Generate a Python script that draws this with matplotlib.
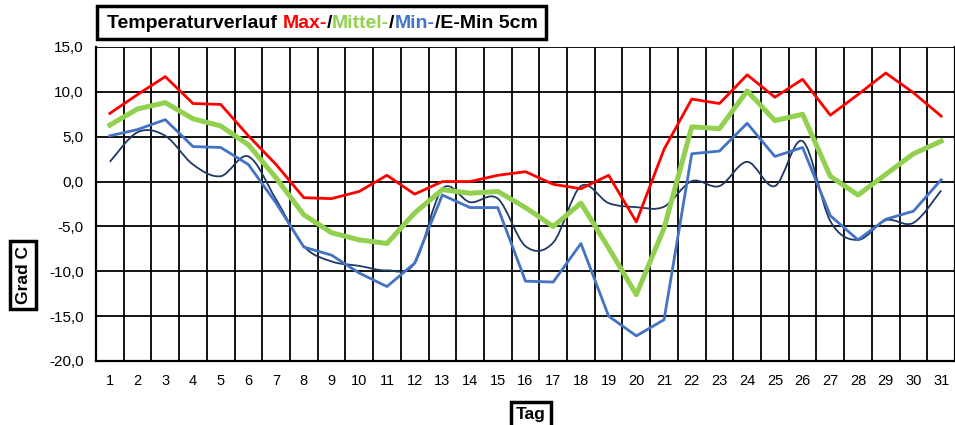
import matplotlib
matplotlib.use("Agg")
import matplotlib.pyplot as plt
from matplotlib.path import Path
from matplotlib.patches import PathPatch, Rectangle
from matplotlib.ticker import FixedLocator, FuncFormatter
import numpy as np

plt.rcParams['font.family'] = ['Liberation Sans', 'DejaVu Sans']

# Tage des Monats und Temperaturen (Grad C)
tage = list(range(1, 32))
t_max = [7.6, 9.7, 11.7, 8.7, 8.6, 5.1, 1.9, -1.8, -1.9, -1.1, 0.7, -1.4, 0.0, 0.0, 0.7, 1.1,
         -0.3, -0.8, 0.7, -4.5, 3.6, 9.2, 8.7, 11.9, 9.4, 11.4, 7.4, 9.7, 12.1, 9.9, 7.3]
t_mittel = [6.3, 8.1, 8.8, 7.0, 6.2, 4.1, 0.4, -3.7, -5.7, -6.5, -6.9, -3.5, -0.9, -1.3, -1.1, -2.9,
            -5.0, -2.4, -7.4, -12.6, -5.2, 6.1, 5.9, 10.1, 6.8, 7.5, 0.6, -1.5, 0.8, 3.1, 4.5]
t_min = [5.1, 5.8, 6.9, 3.9, 3.8, 1.9, -2.4, -7.3, -8.2, -10.2, -11.7, -9.1, -1.5, -2.9, -2.9, -11.1,
         -11.2, -6.9, -15.0, -17.2, -15.4, 3.1, 3.4, 6.5, 2.8, 3.8, -3.8, -6.5, -4.2, -3.3, 0.2]
t_emin = [2.2, 5.5, 5.1, 1.9, 0.6, 2.8, -2.0, -7.2, -8.9, -9.4, -9.9, -9.1, -0.8, -2.3, -1.9, -7.2,
          -6.8, -0.5, -2.4, -2.85, -2.8, 0.05, -0.5, 2.2, -0.5, 4.5, -4.4, -6.5, -4.3, -4.6, -1.0]
y_ticks = [-20, -15, -10, -5, 0, 5, 10, 15]

fig = plt.figure(figsize=(9.55, 4.25), dpi=100)
ax = fig.add_axes([96 / 955, 1 - 361 / 425, 1 - 96 / 955, (361 - 47) / 425])

ax.set_xlim(0.5, 31.5)
ax.set_ylim(-20, 15)

# gitter
ax.xaxis.set_major_locator(FixedLocator(tage))
ax.xaxis.set_minor_locator(FixedLocator(np.arange(1.5, 31, 1)))
ax.yaxis.set_major_locator(FixedLocator(y_ticks))
ax.grid(which='minor', axis='x', color='black', linewidth=1.3)
ax.grid(which='major', axis='y', color='black', linewidth=1.3)
ax.set_axisbelow(True)
for s in ax.spines.values():
    s.set_color('black')
    s.set_linewidth(1.6)
ax.spines['top'].set_visible(False)
ax.tick_params(which='both', length=0)
ax.tick_params(axis='x', pad=9.5, labelsize=10.5)
ax.tick_params(axis='y', pad=9, labelsize=11)
# Excel-Stil: Komma und normaler Bindestrich als Minus
ax.yaxis.set_major_formatter(FuncFormatter(lambda v, p: f"{v:.1f}".replace('.', ',')))

ax.plot(tage, t_max, color='#FF0000', linewidth=2.0, solid_joinstyle='round')
ax.plot(tage, t_mittel, color='#92D050', linewidth=3.6, solid_joinstyle='round')
ax.plot(tage, t_min, color='#4472C4', linewidth=2.0, solid_joinstyle='round')

# geglaettete Linie (wie Excel) als Bezier-Kurve
pts = np.column_stack([tage, t_emin]).astype(float)
verts = [pts[0]]
codes = [Path.MOVETO]
for i in range(len(pts) - 1):
    p0 = pts[max(i - 1, 0)]
    p1 = pts[i]
    p2 = pts[i + 1]
    p3 = pts[min(i + 2, len(pts) - 1)]
    verts += [p1 + (p2 - p0) / 6, p2 - (p3 - p1) / 6, p2]
    codes += [Path.CURVE4] * 3
ax.add_patch(PathPatch(Path(verts, codes), fill=False, edgecolor='#1F3864', linewidth=1.3))

# titel mit farbigen teilen
parts = [("Temperaturverlauf ", 'black'), ("Max-", '#FF0000'), ("/", 'black'),
         ("Mittel-", '#92D050'), ("/", 'black'), ("Min-", '#4472C4'), ("/E-Min 5cm", 'black')]
fig.canvas.draw()
r = fig.canvas.get_renderer()
x = 107
for txt, col in parts:
    t = fig.text(x / 955, 1 - 23 / 425, txt, color=col, fontsize=14, fontweight='bold',
                 va='center', ha='left')
    x = t.get_window_extent(r).x1
fig.patches.append(Rectangle((97 / 955, 1 - 39 / 425), (x + 8 - 97) / 955, 33 / 425,
                             transform=fig.transFigure, fill=False, edgecolor='black',
                             linewidth=2.5))

fig.text(23 / 955, 1 - 275 / 425, "Grad C", rotation=90, fontsize=12.5, fontweight='bold',
         ha='center', va='center',
         bbox=dict(boxstyle='square,pad=0.3', facecolor='white', edgecolor='black', linewidth=2.5))
fig.text(531 / 955, 1 - 415 / 425, "Tag", fontsize=12.5, fontweight='bold', ha='center', va='center',
         bbox=dict(boxstyle='square,pad=0.3', facecolor='white', edgecolor='black', linewidth=2.5))

fig.savefig('out.png', dpi=100)
